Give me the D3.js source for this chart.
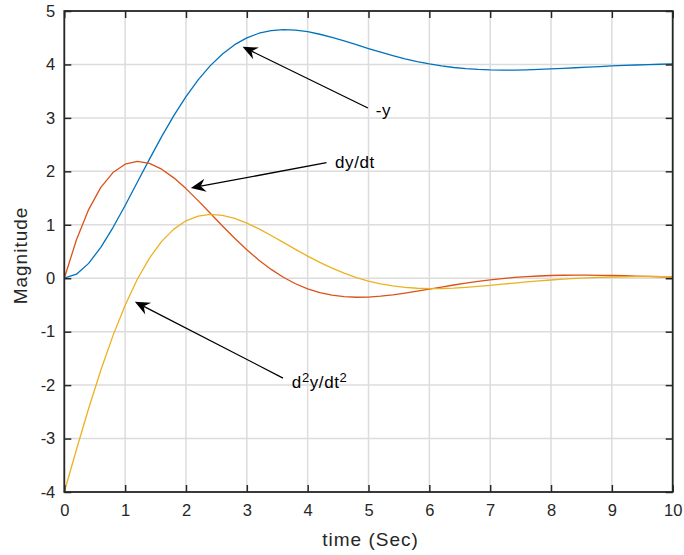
<!DOCTYPE html>
<html>
<head>
<meta charset="utf-8">
<script src="https://cdn.jsdelivr.net/npm/d3@7"></script>
<style>
  body { margin: 0; background: #fff; }
  text { font-family: "Liberation Sans", Arial, Helvetica, sans-serif; fill: #262626; }
</style>
</head>
<body>
<svg id="chart" width="684" height="555"></svg>
<script>
// sampled time (s)
var time = [0, 0.2, 0.4, 0.6, 0.8, 1, 1.2, 1.4, 1.6, 1.8, 2, 2.2, 2.4, 2.6, 2.8, 3, 3.2, 3.4, 3.6, 3.8,
  4, 4.2, 4.4, 4.6, 4.8, 5, 5.2, 5.4, 5.6, 5.8, 6, 6.2, 6.4, 6.6, 6.8, 7, 7.2, 7.4, 7.6, 7.8,
  8, 8.2, 8.4, 8.6, 8.8, 9, 9.2, 9.4, 9.6, 9.8, 10]

// -y
var negY = [0, 0.075, 0.278, 0.578, 0.948, 1.361, 1.795, 2.229, 2.649, 3.042, 3.398, 3.711, 3.978, 4.197,
  4.370, 4.497, 4.584, 4.634, 4.652, 4.643, 4.613, 4.565, 4.506, 4.440, 4.369, 4.298, 4.229, 4.165,
  4.106, 4.054, 4.009, 3.972, 3.943, 3.921, 3.906, 3.897, 3.894, 3.895, 3.899, 3.907, 3.916, 3.927,
  3.938, 3.950, 3.961, 3.972, 3.981, 3.990, 3.998, 4.004, 4.009]

// dy/dt
var dydt = [0, 0.720, 1.284, 1.699, 1.977, 2.134, 2.185, 2.148, 2.040, 1.878, 1.677, 1.452, 1.216, 0.978,
  0.748, 0.533, 0.337, 0.165, 0.018, -0.103, -0.198, -0.269, -0.317, -0.345, -0.356, -0.352, -0.336,
  -0.310, -0.278, -0.242, -0.204, -0.165, -0.127, -0.092, -0.059, -0.031, -0.006, 0.014, 0.030, 0.042,
  0.051, 0.056, 0.058, 0.058, 0.055, 0.051, 0.046, 0.040, 0.034, 0.028, 0.022]

// d2y/dt2
var d2ydt2 = [-4, -3.205, -2.438, -1.723, -1.074, -0.505, -0.020, 0.377, 0.689, 0.919, 1.075, 1.163, 1.194,
  1.175, 1.118, 1.030, 0.922, 0.799, 0.670, 0.540, 0.414, 0.296, 0.189, 0.094, 0.013, -0.053, -0.106,
  -0.145, -0.172, -0.188, -0.194, -0.192, -0.184, -0.170, -0.153, -0.133, -0.112, -0.091, -0.070,
  -0.051, -0.033, -0.017, -0.004, 0.007, 0.016, 0.023, 0.028, 0.030, 0.032, 0.031, 0.030]

var xTicks = [0, 1, 2, 3, 4, 5, 6, 7, 8, 9, 10]
var yTicks = [-4, -3, -2, -1, 0, 1, 2, 3, 4, 5]

// annotation arrows in data units: tail, tip, and text anchor
var annoTail = [[4.99, 3.185], [4.31, 2.161], [3.595, -1.868]]
var annoTip = [[2.93, 4.33], [2.08, 1.688], [1.16, -0.44]]
var annoText = [[5.12, 3.035], [4.45, 2.06], [3.74, -2.055]]

var colors = ['#0072BD', '#D95319', '#EDB120']
var axisColor = '#262626'
var gridColor = '#dcdcdc'

var svg = d3.select('#chart')
var plotLeft = 64.3, plotRight = 672.7, plotTop = 11, plotBottom = 492

var x = d3.scaleLinear().domain([0, 10]).range([plotLeft, plotRight])
var y = d3.scaleLinear().domain([-4, 5]).range([plotBottom, plotTop])

// grid
var grid = svg.append('g')
grid.selectAll('.gx').data(xTicks).enter().append('line')
  .attr('x1', d => x(d)).attr('x2', d => x(d))
  .attr('y1', plotTop).attr('y2', plotBottom)
  .attr('stroke', gridColor).attr('stroke-width', 1.5)
grid.selectAll('.gy').data(yTicks).enter().append('line')
  .attr('x1', plotLeft).attr('x2', plotRight)
  .attr('y1', d => y(d)).attr('y2', d => y(d))
  .attr('stroke', gridColor).attr('stroke-width', 1.5)

// curves
var series = [negY, dydt, d2ydt2]
var line = d3.line().x((d, i) => x(time[i])).y(d => y(d))
series.forEach(function (s, i) {
  svg.append('path')
    .attr('d', line(s))
    .attr('fill', 'none')
    .attr('stroke', colors[i])
    .attr('stroke-width', 1.3)
    .attr('stroke-linejoin', 'round')
})

// axes with inward ticks on all sides
var fmt = d => String(d)
function styleAxis(g) {
  g.select('.domain').remove()
  g.selectAll('.tick line').attr('stroke', axisColor).attr('stroke-width', 1.5)
  g.selectAll('.tick text').attr('fill', axisColor).style('font-size', '16.5px')
    .style('font-family', '"Liberation Sans", Arial, sans-serif')
}
svg.append('g').attr('transform', 'translate(0,' + plotBottom + ')')
  .call(d3.axisBottom(x).tickValues(xTicks).tickFormat(fmt).tickSizeInner(-7).tickSizeOuter(0).tickPadding(12))
  .call(styleAxis)
svg.append('g').attr('transform', 'translate(0,' + plotTop + ')')
  .call(d3.axisTop(x).tickValues(xTicks).tickSizeInner(-7).tickSizeOuter(0).tickFormat(''))
  .call(styleAxis)
svg.append('g').attr('transform', 'translate(' + plotLeft + ',0)')
  .call(d3.axisLeft(y).tickValues(yTicks).tickFormat(fmt).tickSizeInner(-7).tickSizeOuter(0).tickPadding(9))
  .call(styleAxis)
svg.append('g').attr('transform', 'translate(' + plotRight + ',0)')
  .call(d3.axisRight(y).tickValues(yTicks).tickSizeInner(-7).tickSizeOuter(0).tickFormat(''))
  .call(styleAxis)

// frame
svg.append('rect')
  .attr('x', plotLeft).attr('y', plotTop)
  .attr('width', plotRight - plotLeft).attr('height', plotBottom - plotTop)
  .attr('fill', 'none').attr('stroke', axisColor).attr('stroke-width', 1.8)

// axis labels
svg.append('text')
  .attr('x', (plotLeft + plotRight) / 2 + 2).attr('y', 546)
  .attr('text-anchor', 'middle').style('font-size', '19px').style('letter-spacing', '1px')
  .text('time (Sec)')
svg.append('text')
  .attr('transform', 'translate(27,' + ((plotTop + plotBottom) / 2 + 4) + ') rotate(-90)')
  .attr('text-anchor', 'middle').style('font-size', '19px').style('letter-spacing', '1px')
  .text('Magnitude')

// annotation arrows
function arrow(tail, tip) {
  var x0 = x(tail[0]), y0 = y(tail[1]), x1 = x(tip[0]), y1 = y(tip[1])
  var ang = Math.atan2(y1 - y0, x1 - x0)
  var len = 15, half = 6.5, notch = 10
  var ux = Math.cos(ang), uy = Math.sin(ang)
  var bx = x1 - ux * len, by = y1 - uy * len
  var nx = x1 - ux * notch, ny = y1 - uy * notch
  svg.append('line')
    .attr('x1', x0).attr('y1', y0).attr('x2', nx).attr('y2', ny)
    .attr('stroke', '#000').attr('stroke-width', 1.3)
  svg.append('path')
    .attr('d', 'M' + x1 + ',' + y1 +
      'L' + (bx - uy * half) + ',' + (by + ux * half) +
      'L' + nx + ',' + ny +
      'L' + (bx + uy * half) + ',' + (by - ux * half) + 'Z')
    .attr('fill', '#000')
}
for (var i = 0; i < annoTail.length; i++) arrow(annoTail[i], annoTip[i])

svg.append('text').attr('x', x(annoText[0][0])).attr('y', y(annoText[0][1]))
  .style('font-size', '17px').style('letter-spacing', '0.6px').style('fill', '#000').text('-y')
svg.append('text').attr('x', x(annoText[1][0])).attr('y', y(annoText[1][1]))
  .style('font-size', '17px').style('letter-spacing', '0.6px').style('fill', '#000').text('dy/dt')
var t3 = svg.append('text').attr('x', x(annoText[2][0])).attr('y', y(annoText[2][1]))
  .style('font-size', '17px').style('letter-spacing', '0.6px').style('fill', '#000')
t3.append('tspan').text('d')
t3.append('tspan').attr('dy', -6).style('font-size', '13px').text('2')
t3.append('tspan').attr('dy', 6).text('y/dt')
t3.append('tspan').attr('dy', -6).style('font-size', '13px').text('2')
</script>
</body>
</html>
